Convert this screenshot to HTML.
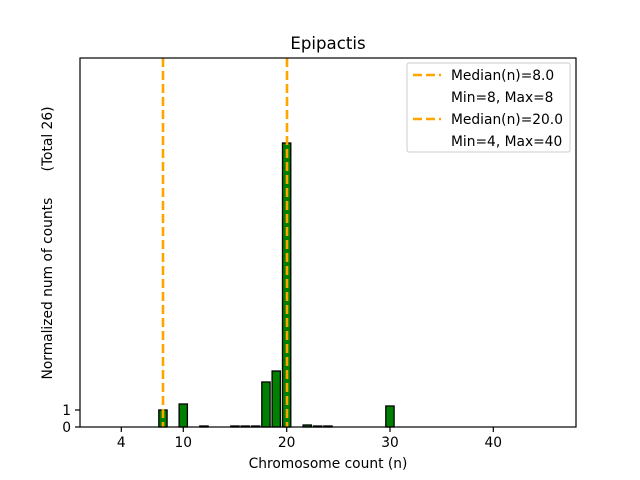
<!DOCTYPE html>
<html><head><meta charset="utf-8"><style>body{margin:0;background:#fff}svg{display:block}text{font-family:"DejaVu Sans","Liberation Sans",sans-serif;fill:#000}</style></head><body>
<svg width="640" height="480" viewBox="0 0 640 480" xmlns="http://www.w3.org/2000/svg">
<rect width="640" height="480" fill="#fff"/>
<g fill="#008000" stroke="#000" stroke-width="1.3">
<rect x="158.8" y="410" width="8.3" height="17"/>
<rect x="179.1" y="404" width="8.3" height="23"/>
<rect x="199.8" y="426" width="8.3" height="1"/>
<rect x="230.8" y="426" width="8.3" height="1"/>
<rect x="241.1" y="426" width="8.3" height="1"/>
<rect x="251.5" y="426" width="8.3" height="1"/>
<rect x="261.8" y="382" width="8.3" height="45"/>
<rect x="272.1" y="371" width="8.3" height="56"/>
<rect x="282.5" y="143" width="8.3" height="284"/>
<rect x="303.1" y="425" width="8.3" height="2"/>
<rect x="313.5" y="426" width="8.3" height="1"/>
<rect x="323.8" y="426" width="8.3" height="1"/>
<rect x="385.8" y="406" width="8.3" height="21"/>
</g>
<g stroke="#FFA500" stroke-width="2.6" stroke-dasharray="9,4">
<line x1="163" y1="58" x2="163" y2="427"/>
<line x1="287" y1="58" x2="287" y2="427"/>
</g>
<rect x="80" y="58" width="496" height="369" fill="none" stroke="#000" stroke-width="1.2"/>
<g stroke="#000" stroke-width="1.2">
<line x1="121.3" y1="427" x2="121.3" y2="432"/><line x1="183.3" y1="427" x2="183.3" y2="432"/>
<line x1="286.7" y1="427" x2="286.7" y2="432"/><line x1="390" y1="427" x2="390" y2="432"/>
<line x1="493.3" y1="427" x2="493.3" y2="432"/>
<line x1="75" y1="427" x2="80" y2="427"/><line x1="75" y1="410" x2="80" y2="410"/>
</g>
<g font-size="13.8" text-anchor="middle">
<text x="121.3" y="447">4</text><text x="183.3" y="447">10</text><text x="286.7" y="447">20</text><text x="390" y="447">30</text><text x="493.3" y="447">40</text>
</g>
<g font-size="13.8" text-anchor="end">
<text x="71" y="432">0</text><text x="71" y="415">1</text>
</g>
<text x="328" y="468" font-size="13.8" text-anchor="middle">Chromosome count (n)</text>
<text transform="translate(52,243) rotate(-90)" font-size="13.8" text-anchor="middle" xml:space="preserve">Normalized num of counts      (Total 26)</text>
<text x="328" y="49" font-size="16.6" text-anchor="middle">Epipactis</text>
<rect x="407" y="63" width="163" height="89" rx="2" fill="#fff" fill-opacity="0.8" stroke="#ccc"/>
<g stroke="#FFA500" stroke-width="2.6" stroke-dasharray="9,4">
<line x1="413" y1="75" x2="441" y2="75"/>
<line x1="413" y1="119" x2="441" y2="119"/>
</g>
<g font-size="13.8">
<text x="451" y="80">Median(n)=8.0</text>
<text x="451" y="102">Min=8, Max=8</text>
<text x="451" y="124">Median(n)=20.0</text>
<text x="451" y="146">Min=4, Max=40</text>
</g>
</svg>
</body></html>
